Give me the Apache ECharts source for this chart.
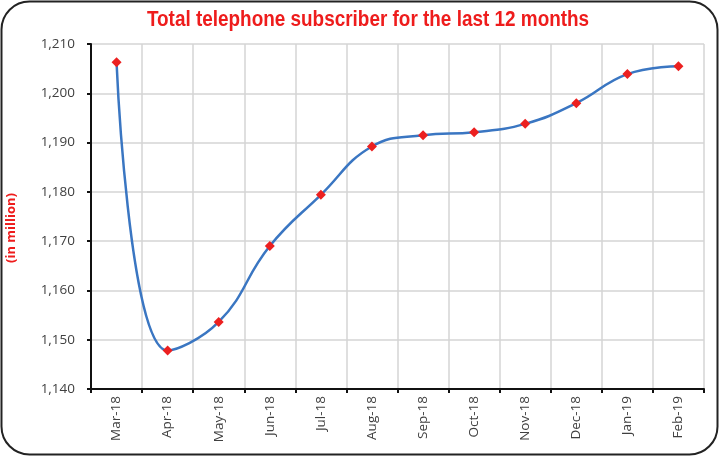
<!DOCTYPE html>
<html><head><meta charset="utf-8">
<script src="https://cdn.jsdelivr.net/npm/echarts@6/dist/echarts.min.js"></script>
<style>html,body{margin:0;padding:0;background:#fff}#c{width:720px;height:457px}</style>
</head><body><div id="c"></div>
<script>
const categories = ['Mar-18','Apr-18','May-18','Jun-18','Jul-18','Aug-18','Sep-18','Oct-18','Nov-18','Dec-18','Jan-19','Feb-19'];
const subscribers = [1206.3, 1147.8, 1153.6, 1169.0, 1179.4, 1189.2, 1191.5, 1192.1, 1193.8, 1198.0, 1203.9, 1205.5];
const yMin = 1140, yMax = 1210, yStep = 10;
const titleText = 'Total telephone subscriber for the last 12 months';
const yAxisTitle = '(in million)';

const chart = echarts.init(document.getElementById('c'));
chart.setOption({
  animation: false,
  backgroundColor: '#fff',
  graphic: [
    {type: 'rect', shape: {x: 1.5, y: 1.5, width: 716, height: 453, r: 28}, style: {fill: 'none', stroke: '#222', lineWidth: 2}, z: 100},
    {type: 'text', x: 11, y: 228, rotation: Math.PI/2,
      style: {text: yAxisTitle, fill: '#ee1c1c', font: 'bold 13px "Open Sans", sans-serif', align: 'center', verticalAlign: 'middle'}},
    {type: 'text', x: 368, y: 20, scaleX: 0.86,
      style: {text: titleText, fill: '#ee1c1c', font: 'bold 22px "Liberation Sans", Arial, sans-serif', align: 'center', verticalAlign: 'middle'}}
  ],
  grid: {left: 91, right: 16, top: 44, bottom: 68, containLabel: false},
  xAxis: {
    type: 'category', data: categories, boundaryGap: true,
    axisLine: {lineStyle: {color: '#111', width: 2}},
    axisTick: {show: true, length: 4, lineStyle: {color: '#111', width: 2}},
    splitLine: {show: true, lineStyle: {color: '#d4d4d4', width: 1.5}},
    axisLabel: {rotate: 90, color: '#404040', fontSize: 13.5, fontFamily: '"Open Sans", sans-serif', margin: 7}
  },
  yAxis: {
    type: 'value', min: yMin, max: yMax, interval: yStep,
    axisLine: {show: true, lineStyle: {color: '#111', width: 2}},
    axisTick: {show: true, length: 4, lineStyle: {color: '#111', width: 2}},
    splitLine: {lineStyle: {color: '#d4d4d4', width: 1.5}},
    axisLabel: {color: '#404040', fontSize: 13.5, fontFamily: '"Open Sans", sans-serif', margin: 16,
      formatter: v => v.toLocaleString('en-US')}
  },
  series: [{
    type: 'line', data: subscribers, smooth: 0.45,
    lineStyle: {color: '#3a76c2', width: 2.5},
    symbol: 'diamond', symbolSize: 10,
    itemStyle: {color: '#ec2020'}
  }]
});
</script></body></html>
